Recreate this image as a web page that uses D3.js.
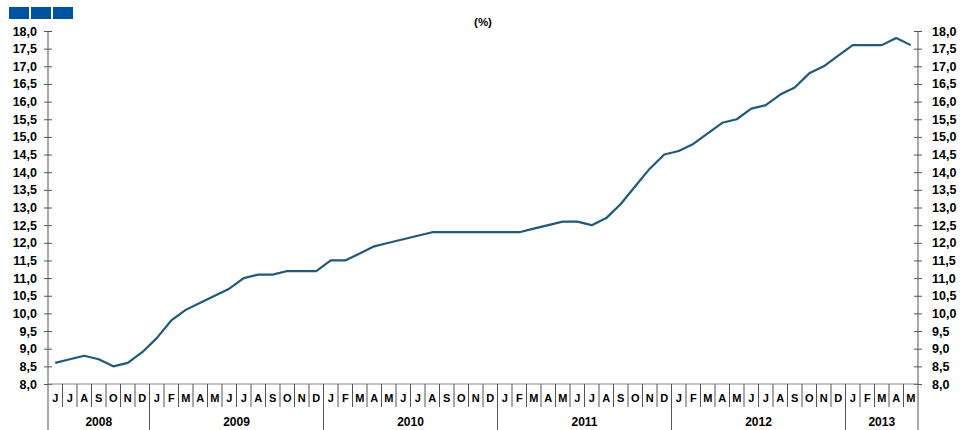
<!DOCTYPE html>
<html>
<head>
<meta charset="utf-8">
<script src="https://cdn.jsdelivr.net/npm/d3@7"></script>
<style>
  body { margin: 0; background: #fff; }
  svg { display: block; font-family: "Liberation Sans", Arial, sans-serif; }
</style>
</head>
<body>
<svg id="chart" width="960" height="430"></svg>
<script>
// Mois (juin 2008 - mai 2013)
const monthLabels = ["J","J","A","S","O","N","D",
  "J","F","M","A","M","J","J","A","S","O","N","D",
  "J","F","M","A","M","J","J","A","S","O","N","D",
  "J","F","M","A","M","J","J","A","S","O","N","D",
  "J","F","M","A","M","J","J","A","S","O","N","D",
  "J","F","M","A","M"];

// Années et nombre de mois dans chaque groupe
const years = ["2008", "2009", "2010", "2011", "2012", "2013"];
const yearMonths = [7, 12, 12, 12, 12, 5];

// Valeurs (%)
const values = [8.6, 8.7, 8.8, 8.7, 8.5, 8.6, 8.9,
  9.3, 9.8, 10.1, 10.3, 10.5, 10.7, 11.0, 11.1, 11.1, 11.2, 11.2, 11.2,
  11.5, 11.5, 11.7, 11.9, 12.0, 12.1, 12.2, 12.3, 12.3, 12.3, 12.3, 12.3,
  12.3, 12.3, 12.4, 12.5, 12.6, 12.6, 12.5, 12.7, 13.1, 13.6, 14.1, 14.5,
  14.6, 14.8, 15.1, 15.4, 15.5, 15.8, 15.9, 16.2, 16.4, 16.8, 17.0, 17.3,
  17.6, 17.6, 17.6, 17.8, 17.6];

// Graduations de l'axe Y
const yTicks = [8, 8.5, 9, 9.5, 10, 10.5, 11, 11.5, 12, 12.5, 13, 13.5, 14, 14.5,
  15, 15.5, 16, 16.5, 17, 17.5, 18];

const m = { left: 48, right: 918, top: 31, bottom: 384 };
const svg = d3.select("#chart");

const x = d3.scaleBand()
    .domain(d3.range(monthLabels.length))
    .range([m.left, m.right]);

const y = d3.scaleLinear()
    .domain([8, 18])
    .range([m.bottom, m.top]);

const fmt = d => d3.format(".1f")(d).replace(".", ",");
const axisColor = "#555";

// Petits carrés bleus en haut à gauche
svg.selectAll("rect.logo")
    .data([0, 1, 2])
    .enter()
    .append("rect")
    .attr("x", d => 9 + d * 22)
    .attr("y", 7)
    .attr("width", 20)
    .attr("height", 12)
    .attr("fill", "#00539f");

// Titre
svg.append("text")
    .attr("x", 483)
    .attr("y", 26)
    .attr("text-anchor", "middle")
    .attr("font-size", 11.5)
    .attr("font-weight", "bold")
    .text("(%)");

// Axes gauche et droit
const axisL = d3.axisLeft(y).tickValues(yTicks).tickFormat(fmt).tickSize(4).tickPadding(7);
const axisR = d3.axisRight(y).tickValues(yTicks).tickFormat(fmt).tickSize(4).tickPadding(10);

[[axisL, m.left], [axisR, m.right]].forEach(([ax, xp]) => {
    const g = svg.append("g")
        .attr("transform", "translate(" + xp + ",0)")
        .call(ax);
    g.select(".domain").remove();
    g.selectAll(".tick line")
        .attr("x1", -4).attr("x2", 4)
        .attr("stroke", axisColor);
    g.selectAll(".tick text")
        .attr("font-size", 12.5)
        .attr("font-weight", "bold")
        .attr("fill", "#000")
        .attr("font-family", "Liberation Sans, Arial, sans-serif");
});

// Lignes verticales des axes
svg.append("line")
    .attr("x1", m.left).attr("x2", m.left)
    .attr("y1", m.top).attr("y2", 430)
    .attr("stroke", axisColor);
svg.append("line")
    .attr("x1", m.right).attr("x2", m.right)
    .attr("y1", m.top).attr("y2", 430)
    .attr("stroke", axisColor);

// Axe horizontal
svg.append("line")
    .attr("x1", m.left).attr("x2", m.right)
    .attr("y1", m.bottom).attr("y2", m.bottom)
    .attr("stroke", "#888");

// Séparateurs des mois
svg.selectAll("line.month")
    .data(d3.range(1, monthLabels.length))
    .enter()
    .append("line")
    .attr("x1", d => x(d)).attr("x2", d => x(d))
    .attr("y1", m.bottom).attr("y2", 407)
    .attr("stroke", axisColor);

// Lettres des mois
svg.selectAll("text.month")
    .data(monthLabels)
    .enter()
    .append("text")
    .attr("x", (d, i) => x(i) + x.bandwidth() / 2)
    .attr("y", 402)
    .attr("text-anchor", "middle")
    .attr("font-size", 11)
    .attr("font-weight", "bold")
    .text(d => d);

// Séparateurs et libellés des années
let starts = [0];
yearMonths.forEach((n, i) => starts.push(starts[i] + n));

svg.selectAll("line.year")
    .data(starts.slice(1, -1))
    .enter()
    .append("line")
    .attr("x1", d => x(d)).attr("x2", d => x(d))
    .attr("y1", m.bottom).attr("y2", 430)
    .attr("stroke", axisColor);

svg.selectAll("text.year")
    .data(years)
    .enter()
    .append("text")
    .attr("x", (d, i) => {
        const a = x(starts[i]);
        const b = starts[i + 1] < monthLabels.length ? x(starts[i + 1]) : m.right;
        return (a + b) / 2;
    })
    .attr("y", 426)
    .attr("text-anchor", "middle")
    .attr("font-size", 12)
    .attr("font-weight", "bold")
    .text(d => d);

// Courbe
const line = d3.line()
    .x((d, i) => x(i) + x.bandwidth() / 2)
    .y(d => y(d));

svg.append("path")
    .datum(values)
    .attr("d", line)
    .attr("fill", "none")
    .attr("stroke", "#1f5a7c")
    .attr("stroke-width", 2.2)
    .attr("stroke-linejoin", "round");
</script>
</body>
</html>
